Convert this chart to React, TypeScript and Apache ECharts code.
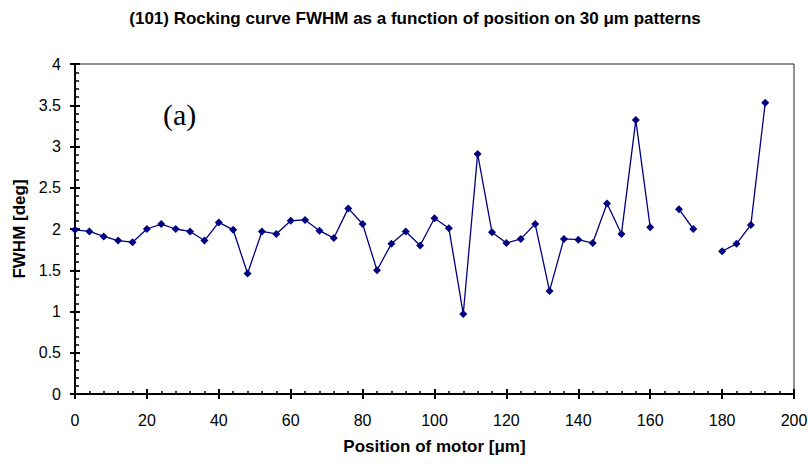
import React, { useEffect, useRef } from "react";
import * as echarts from "echarts";

const positions = [
  0, 4, 8, 12, 16, 20, 24, 28, 32, 36, 40, 44, 48, 52, 56, 60, 64, 68, 72, 76,
  80, 84, 88, 92, 96, 100, 104, 108, 112, 116, 120, 124, 128, 132, 136, 140,
  144, 148, 152, 156, 160, 164, 168, 172, 176, 180, 184, 188, 192,
];
const fwhm: (number | null)[] = [
  1.99, 1.97, 1.91, 1.86, 1.84, 2.0, 2.06, 2.0, 1.97, 1.86, 2.08, 1.99, 1.46,
  1.97, 1.94, 2.1, 2.11, 1.98, 1.89, 2.25, 2.06, 1.5, 1.82, 1.97, 1.8, 2.13,
  2.01, 0.97, 2.91, 1.96, 1.83, 1.88, 2.06, 1.25, 1.88, 1.87, 1.83, 2.31, 1.94,
  3.32, 2.02, null, 2.24, 2.0, null, 1.73, 1.82, 2.05, 3.53,
];

const titleText =
  "(101) Rocking curve FWHM as a function of position on 30 \u03bcm patterns";
const xAxisTitle = "Position of motor [\u03bcm]";
const yAxisTitle = "FWHM [deg]";
const panelLabel = "(a)";

const FONT = "'Liberation Sans', Arial, sans-serif";

export default function App() {
  const ref = useRef<HTMLDivElement>(null);
  useEffect(() => {
    if (!ref.current) return;
    const chart = echarts.init(ref.current, null, { renderer: "svg" });
    const data = positions.map((p, i) => [p, fwhm[i] === null ? "-" : fwhm[i]]);
    const grid = { left: 75, right: 17, top: 64, bottom: 71 };
    chart.setOption({
      animation: false,
      backgroundColor: "#fff",
      title: {
        text: titleText,
        left: 410,
        textAlign: "center",
        top: 5,
        textStyle: { fontFamily: FONT, fontSize: 17, fontWeight: "bold", color: "#000" },
      },
      graphic: [
        {
          type: "text",
          left: 163,
          top: 99,
          style: {
            text: panelLabel,
            font: "30px 'Liberation Serif', 'Times New Roman', serif",
            fill: "#000",
          },
        },
      ],
      grid: { ...grid, show: true, borderColor: "#222", borderWidth: 1 },
      xAxis: [
        {
          type: "value",
          min: 0,
          max: 200,
          interval: 20,
          name: xAxisTitle,
          nameLocation: "middle",
          nameGap: 44,
          nameTextStyle: { fontFamily: FONT, fontSize: 17, fontWeight: "bold", color: "#000" },
          axisLine: { show: true, onZero: false, lineStyle: { color: "#000", width: 2 } },
          axisTick: { show: true, inside: false, length: 5, lineStyle: { color: "#000", width: 2 } },
          minorTick: { show: false },
          splitLine: { show: false },
          axisLabel: { fontFamily: FONT, fontSize: 16, color: "#000", margin: 18 },
        },
        {
          type: "value",
          min: 0,
          max: 200,
          interval: 20,
          position: "bottom",
          axisLine: { show: true, onZero: false, lineStyle: { color: "#000", width: 2 } },
          axisTick: { show: true, inside: true, length: 5, lineStyle: { color: "#000", width: 2 } },
          minorTick: { show: true, splitNumber: 5, length: 3, lineStyle: { color: "#000", width: 1.5 } },
          splitLine: { show: false },
          axisLabel: { show: false },
        },
      ],
      yAxis: [
        {
          type: "value",
          min: 0,
          max: 4,
          interval: 0.5,
          name: yAxisTitle,
          nameLocation: "middle",
          nameGap: 46,
          nameTextStyle: { fontFamily: FONT, fontSize: 17, fontWeight: "bold", color: "#000" },
          axisLine: { show: true, onZero: false, lineStyle: { color: "#000", width: 2 } },
          axisTick: { show: true, inside: false, length: 5, lineStyle: { color: "#000", width: 2 } },
          minorTick: { show: false },
          splitLine: { show: false },
          axisLabel: { fontFamily: FONT, fontSize: 16, color: "#000", margin: 14 },
        },
        {
          type: "value",
          min: 0,
          max: 4,
          interval: 0.5,
          position: "left",
          axisLine: { show: true, onZero: false, lineStyle: { color: "#000", width: 2 } },
          axisTick: { show: true, inside: true, length: 5, lineStyle: { color: "#000", width: 2 } },
          minorTick: { show: true, splitNumber: 5, length: 4, lineStyle: { color: "#000", width: 1.5 } },
          splitLine: { show: false },
          axisLabel: { show: false },
        },
      ],
      series: [
        {
          type: "line",
          xAxisIndex: 0,
          yAxisIndex: 0,
          data,
          connectNulls: false,
          symbol: "diamond",
          symbolSize: 8,
          lineStyle: { color: "#000080", width: 1.3 },
          itemStyle: { color: "#000080" },
        },
      ],
    });
    return () => chart.dispose();
  }, []);
  return (
    <div
      ref={ref}
      style={{ position: "fixed", left: 0, top: 0, width: 811, height: 465 }}
    />
  );
}
